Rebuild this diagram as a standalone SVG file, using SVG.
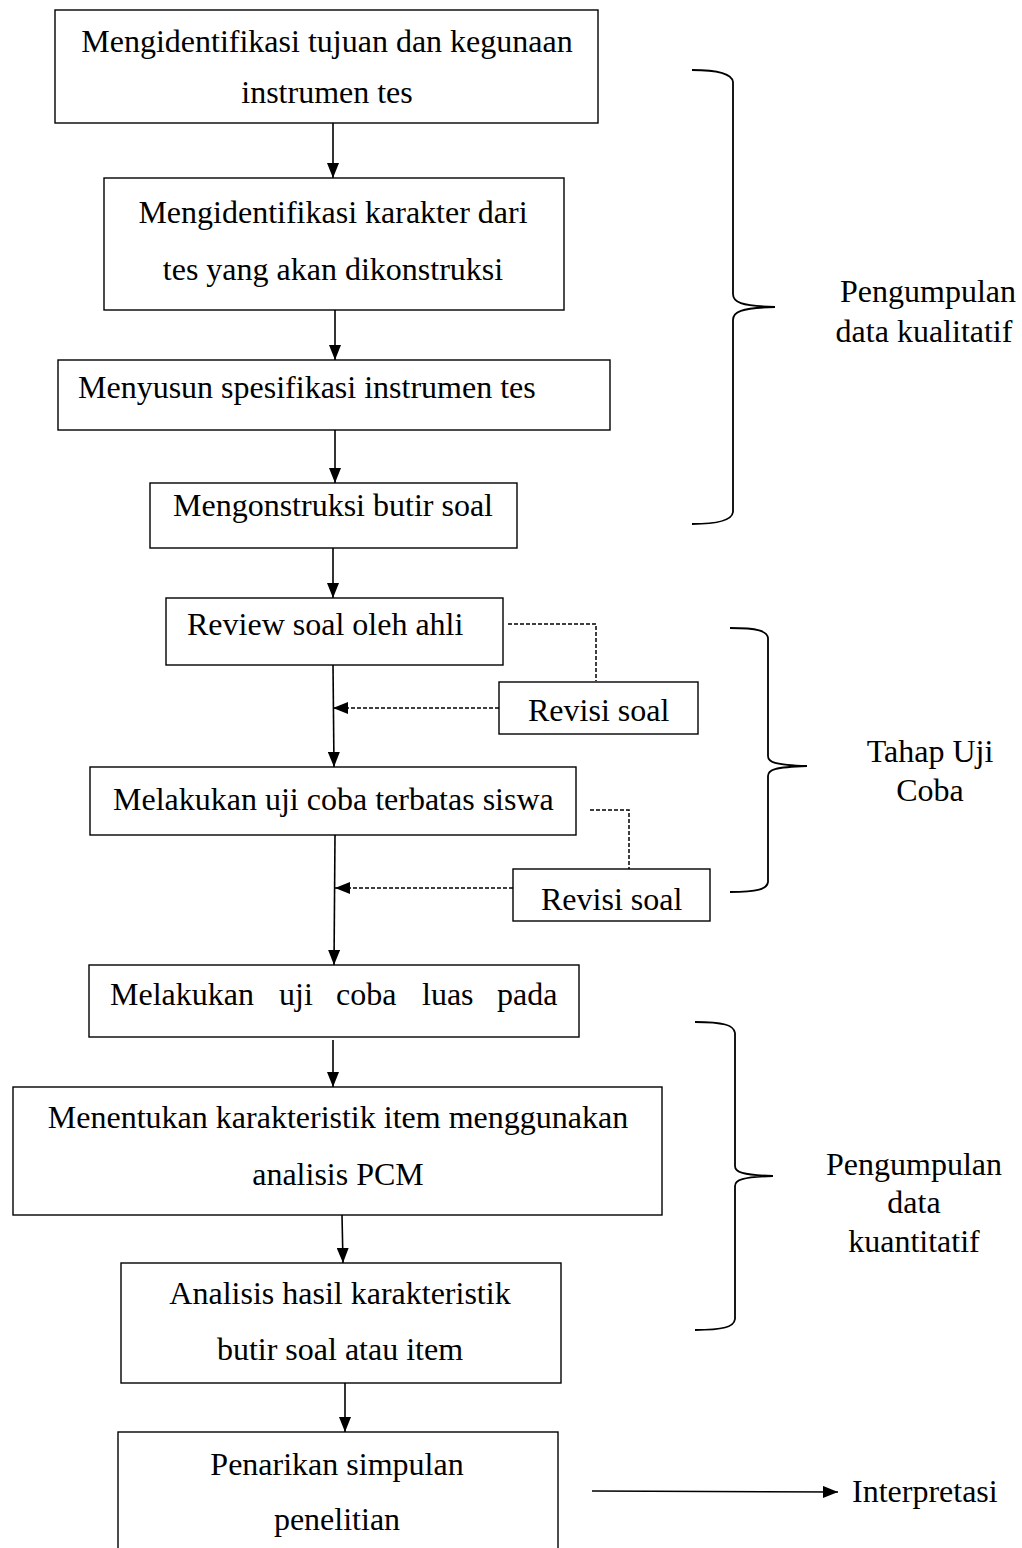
<svg xmlns="http://www.w3.org/2000/svg" width="1022" height="1548" viewBox="0 0 1022 1548">
<defs>
<style>
.box{fill:#fff;stroke:#000;stroke-width:1.4}
.t{font-family:"Liberation Serif","Times New Roman",serif;font-size:32px;fill:#000}
.c{text-anchor:middle}
.ln{fill:none;stroke:#000;stroke-width:1.6}
.dash{fill:none;stroke:#000;stroke-width:1.5;stroke-dasharray:4 2}
.br{fill:none;stroke:#000;stroke-width:1.8}
</style>
<marker id="ah" markerUnits="userSpaceOnUse" markerWidth="16" markerHeight="12" refX="15" refY="6" orient="auto">
<path d="M0,0 L15,6 L0,12 z" fill="#000"/>
</marker>
</defs>
<rect width="1022" height="1548" fill="#fff"/>

<g id="connectors">
<line class="ln" x1="333" y1="123" x2="333" y2="178" marker-end="url(#ah)"/>
<line class="ln" x1="335" y1="310" x2="335" y2="360" marker-end="url(#ah)"/>
<line class="ln" x1="335" y1="430" x2="335" y2="483" marker-end="url(#ah)"/>
<line class="ln" x1="333" y1="548" x2="333" y2="598" marker-end="url(#ah)"/>
<line class="ln" x1="333" y1="665" x2="334" y2="767" marker-end="url(#ah)"/>
<polyline class="dash" points="508,624 596,624 596,681"/>
<line class="dash" x1="499" y1="708" x2="333" y2="708" marker-end="url(#ah)"/>
<polyline class="dash" points="590,810 629,810 629,869"/>
<line class="dash" x1="513" y1="888" x2="335" y2="888" marker-end="url(#ah)"/>
<line class="ln" x1="335" y1="835" x2="334" y2="965" marker-end="url(#ah)"/>
<line class="ln" x1="333" y1="1040" x2="333" y2="1087" marker-end="url(#ah)"/>
<line class="ln" x1="342" y1="1215" x2="343" y2="1263" marker-end="url(#ah)"/>
<line class="ln" x1="345" y1="1383" x2="345" y2="1432" marker-end="url(#ah)"/>
<line class="ln" x1="592" y1="1491" x2="838" y2="1492" marker-end="url(#ah)"/>
</g>

<g id="n1"><rect class="box" x="55" y="10" width="543" height="113"/>
<text class="t c" x="327" y="52">Mengidentifikasi tujuan dan kegunaan</text>
<text class="t c" x="327" y="103">instrumen tes</text></g>

<g id="n2"><rect class="box" x="104" y="178" width="460" height="132"/>
<text class="t c" x="333" y="223">Mengidentifikasi karakter dari</text>
<text class="t c" x="333" y="280">tes yang akan dikonstruksi</text></g>

<g id="n3"><rect class="box" x="58" y="360" width="552" height="70"/>
<text class="t" x="78" y="398">Menyusun spesifikasi instrumen tes</text></g>

<g id="n4"><rect class="box" x="150" y="483" width="367" height="65"/>
<text class="t c" x="333" y="516">Mengonstruksi butir soal</text></g>

<g id="n5"><rect class="box" x="166" y="598" width="337" height="67"/>
<text class="t" x="187" y="635">Review soal oleh ahli</text></g>

<g id="n6"><rect class="box" x="499" y="682" width="199" height="52"/>
<text class="t" x="528" y="721">Revisi soal</text></g>

<g id="n7"><rect class="box" x="90" y="767" width="486" height="68"/>
<text class="t" x="113" y="810">Melakukan uji coba terbatas siswa</text></g>

<g id="n8"><rect class="box" x="513" y="869" width="197" height="52"/>
<text class="t" x="541" y="910">Revisi soal</text></g>

<g id="n9"><rect class="box" x="89" y="965" width="490" height="72"/>
<text class="t" y="1005"><tspan x="110">Melakukan</tspan><tspan x="279">uji</tspan><tspan x="336">coba</tspan><tspan x="422">luas</tspan><tspan x="497">pada</tspan></text></g>

<g id="n10"><rect class="box" x="13" y="1087" width="649" height="128"/>
<text class="t c" x="338" y="1128">Menentukan karakteristik item menggunakan</text>
<text class="t c" x="338" y="1185">analisis PCM</text></g>

<g id="n11"><rect class="box" x="121" y="1263" width="440" height="120"/>
<text class="t c" x="340" y="1304">Analisis hasil karakteristik</text>
<text class="t c" x="340" y="1360">butir soal atau item</text></g>

<g id="n12"><rect class="box" x="118" y="1432" width="440" height="130"/>
<text class="t c" x="337" y="1475">Penarikan simpulan</text>
<text class="t c" x="337" y="1530">penelitian</text></g>

<g id="interpretasi"><text class="t" x="852" y="1502">Interpretasi</text></g>

<g id="brace1">
<path class="br" d="M692,70 C720,70 732,74 733,82 L733,294 C733,302 740,306 775,307 C740,308 733,312 733,320 L733,512 C732,520 720,524 692,524"/>
<text class="t c" x="928" y="302">Pengumpulan</text>
<text class="t c" x="924" y="342">data kualitatif</text>
</g>

<g id="brace2">
<path class="br" d="M730,628 C758,628 767,631 768,638 L768,756 C768,762 774,765 807,766 C774,767 768,770 768,776 L768,882 C767,889 758,892 730,892"/>
<text class="t c" x="930" y="762">Tahap Uji</text>
<text class="t c" x="930" y="801">Coba</text>
</g>

<g id="brace3">
<path class="br" d="M695,1022 C723,1022 734,1025 735,1033 L735,1166 C735,1172 742,1175 773,1176 C742,1177 735,1180 735,1186 L735,1319 C734,1327 723,1330 695,1330"/>
<text class="t c" x="914" y="1175">Pengumpulan</text>
<text class="t c" x="914" y="1213">data</text>
<text class="t c" x="914" y="1252">kuantitatif</text>
</g>
</svg>
